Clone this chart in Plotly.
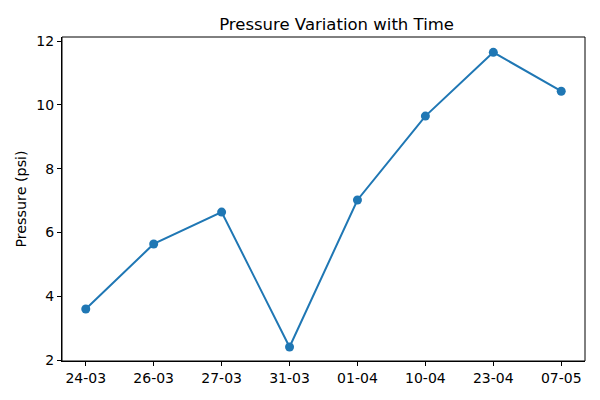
import plotly.graph_objects as go

# ── Data ──────────────────────────────────────────────────────────────────────
dates = ["24-03", "26-03", "27-03", "31-03", "01-04", "10-04", "23-04", "07-05"]
pressure = [3.6, 5.64, 6.64, 2.41, 7.02, 9.65, 11.65, 10.43]

colour = "#1f77b4"
fnt = "DejaVu Sans"

fig = go.Figure()
fig.add_trace(go.Scatter(
    x=list(range(len(dates))),
    y=pressure,
    mode="lines+markers",
    line=dict(color=colour, width=2),
    marker=dict(color=colour, size=9),
    showlegend=False,
    cliponaxis=False,
))

# the page sits 8px in from the window corner, so margins are shifted by that
fig.update_layout(
    width=600, height=400,
    margin=dict(l=54, r=23, t=29, b=47, autoexpand=False),
    paper_bgcolor="white",
    plot_bgcolor="white",
    font=dict(family=fnt, size=14, color="black"),
    title=dict(text="Pressure Variation with Time", x=(323 - 8) / 600,
               xanchor="center", xref="paper", y=1 - 16 / 400,
               yanchor="middle", font=dict(family=fnt, size=16.5)),
)
# frame round the plot area
fig.add_shape(type="rect", xref="paper", yref="paper", x0=0, y0=0, x1=1, y1=1,
              line=dict(color="black", width=1), layer="above")

fig.update_xaxes(
    range=[-0.35, 7.35],
    tickvals=list(range(len(dates))), ticktext=dates,
    tickfont=dict(family=fnt, size=14),
    showgrid=False, zeroline=False, automargin=False,
    showline=True, linecolor="black", linewidth=1,
    ticks="outside", ticklen=4, tickcolor="black",
)
fig.update_yaxes(
    range=[1.97, 12.13],
    tickvals=[2, 4, 6, 8, 10, 12],
    tickfont=dict(family=fnt, size=14),
    title=dict(text="Pressure (psi)", standoff=6,
               font=dict(family=fnt, size=14.3)),
    showgrid=False, zeroline=False, automargin=False,
    showline=True, linecolor="black", linewidth=1,
    ticks="outside", ticklen=4, tickcolor="black",
)

fig.write_html("out.html")
